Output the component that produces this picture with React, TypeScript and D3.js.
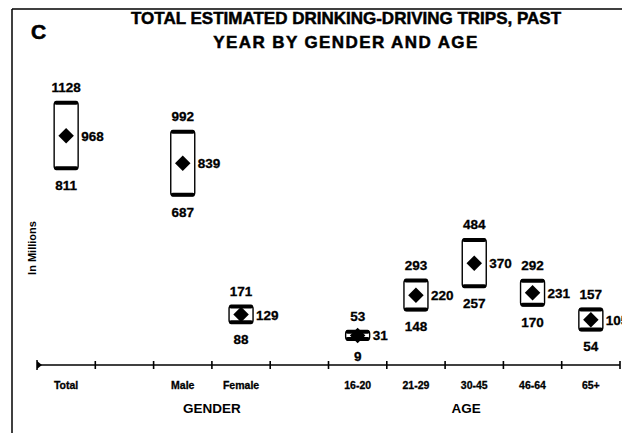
import React from "react";
import * as d3 from "d3";

const categories = ["Total", "Male", "Female", "16-20", "21-29", "30-45", "46-64", "65+"];
const slotDomain = ["Total", "gap1", "Male", "Female", "gap2", "16-20", "21-29", "30-45", "46-64", "65+"];
const highValues = [1128, 992, 171, 53, 293, 484, 292, 157];
const meanValues = [968, 839, 129, 31, 220, 370, 231, 105];
const lowValues = [811, 687, 88, 9, 148, 257, 170, 54];
const genderGroup = ["Male", "Female"];
const ageGroup = ["16-20", "21-29", "30-45", "46-64", "65+"];
const titleLines = ["TOTAL ESTIMATED DRINKING-DRIVING TRIPS, PAST", "YEAR BY GENDER AND AGE"];

const W = 622;
const H = 433;
const FONT = "'Liberation Sans', Arial, Helvetica, sans-serif";

export default function App() {
  const x = d3.scaleBand<string>().domain(slotDomain).range([37, 620]).padding(0);
  const y = d3.scaleLinear().domain([0, 1200]).range([342, 86.4]);
  const bw = x.bandwidth();
  const cx = (c: string) => (x(c) as number) + bw / 2;
  const axisY = 365;
  const boxW = 24;
  const diamond = d3.symbol().type(d3.symbolSquare).size(120)();
  const tickXs = slotDomain.map((s) => x(s) as number).slice(1).concat([x.range()[1]]);

  const genderX = d3.mean(genderGroup.map(cx)) as number;
  const ageX = (d3.mean(ageGroup.map(cx)) as number) - 8;

  return (
    <svg width={W} height={H} style={{ position: "absolute", left: 0, top: 0, background: "#fff" }} fontFamily={FONT}>
      <rect width={W} height={H} fill="#fff" />
      {/* frame */}
      <line x1={12} y1={9} x2={W} y2={9} stroke="#000" strokeWidth={1.3} />
      <line x1={12} y1={9} x2={12} y2={H} stroke="#000" strokeWidth={1.5} />

      {/* title */}
      <text x={31} y={39} fontSize={21} fontWeight="bold" stroke="#000" strokeWidth={0.6}>C</text>
      <text x={346} y={24} fontSize={17} fontWeight="bold" textAnchor="middle" stroke="#000" strokeWidth={0.5}>{titleLines[0]}</text>
      <text x={346} y={48} fontSize={17} fontWeight="bold" textAnchor="middle" letterSpacing={1.4} stroke="#000" strokeWidth={0.5}>{titleLines[1]}</text>

      {/* y label */}
      <text transform={`translate(36,248) rotate(-90)`} fontSize={11} fontWeight="bold" textAnchor="middle">In Millions</text>

      {/* axis */}
      <line x1={x.range()[0]} y1={axisY} x2={x.range()[1]} y2={axisY} stroke="#000" strokeWidth={1.4} />
      <path d={`M${x.range()[0]},${axisY - 4}L${x.range()[0] + 5},${axisY}L${x.range()[0]},${axisY + 4}Z`} fill="#000" />
      <line x1={x.range()[0]} y1={axisY - 5} x2={x.range()[0]} y2={axisY + 5} stroke="#000" strokeWidth={1.5} />
      {tickXs.map((tx, i) => (
        <line key={i} x1={tx} y1={axisY - 4} x2={tx} y2={axisY + 4} stroke="#000" strokeWidth={1.6} />
      ))}

      {/* category labels */}
      {categories.map((c) => (
        <text key={c} x={cx(c)} y={389} fontSize={10.5} fontWeight="bold" textAnchor="middle" stroke="#000" strokeWidth={0.3}>{c}</text>
      ))}
      <text x={genderX} y={413} fontSize={13.5} textAnchor="middle" fontWeight="bold">GENDER</text>
      <text x={ageX} y={413} fontSize={13.5} textAnchor="middle" fontWeight="bold">AGE</text>

      {/* boxes */}
      {categories.map((c, i) => {
        const xc = cx(c);
        const yt = y(highValues[i]);
        const yb = y(lowValues[i]);
        const ym = y(meanValues[i]);
        return (
          <g key={c}>
            <rect x={xc - boxW / 2} y={yt} width={boxW} height={yb - yt} rx={3} fill="#fff" stroke="#000" strokeWidth={1.4} />
            <line x1={xc - boxW / 2 + 2} y1={yt + 1} x2={xc + boxW / 2 - 2} y2={yt + 1} stroke="#000" strokeWidth={4} strokeLinecap="round" />
            <line x1={xc - boxW / 2 + 2} y1={yb - 1} x2={xc + boxW / 2 - 2} y2={yb - 1} stroke="#000" strokeWidth={4} strokeLinecap="round" />
            <path d={diamond as string} transform={`translate(${xc},${ym}) rotate(45)`} fill="#000" />
            <g fontSize={13.5} fontWeight="bold" stroke="#000" strokeWidth={0.3}>
              <text x={xc} y={yt - 10} textAnchor="middle">{highValues[i]}</text>
              <text x={xc} y={yb + 21} textAnchor="middle">{lowValues[i]}</text>
              <text x={xc + boxW / 2 + 3} y={ym + 5}>{meanValues[i]}</text>
            </g>
          </g>
        );
      })}
    </svg>
  );
}
